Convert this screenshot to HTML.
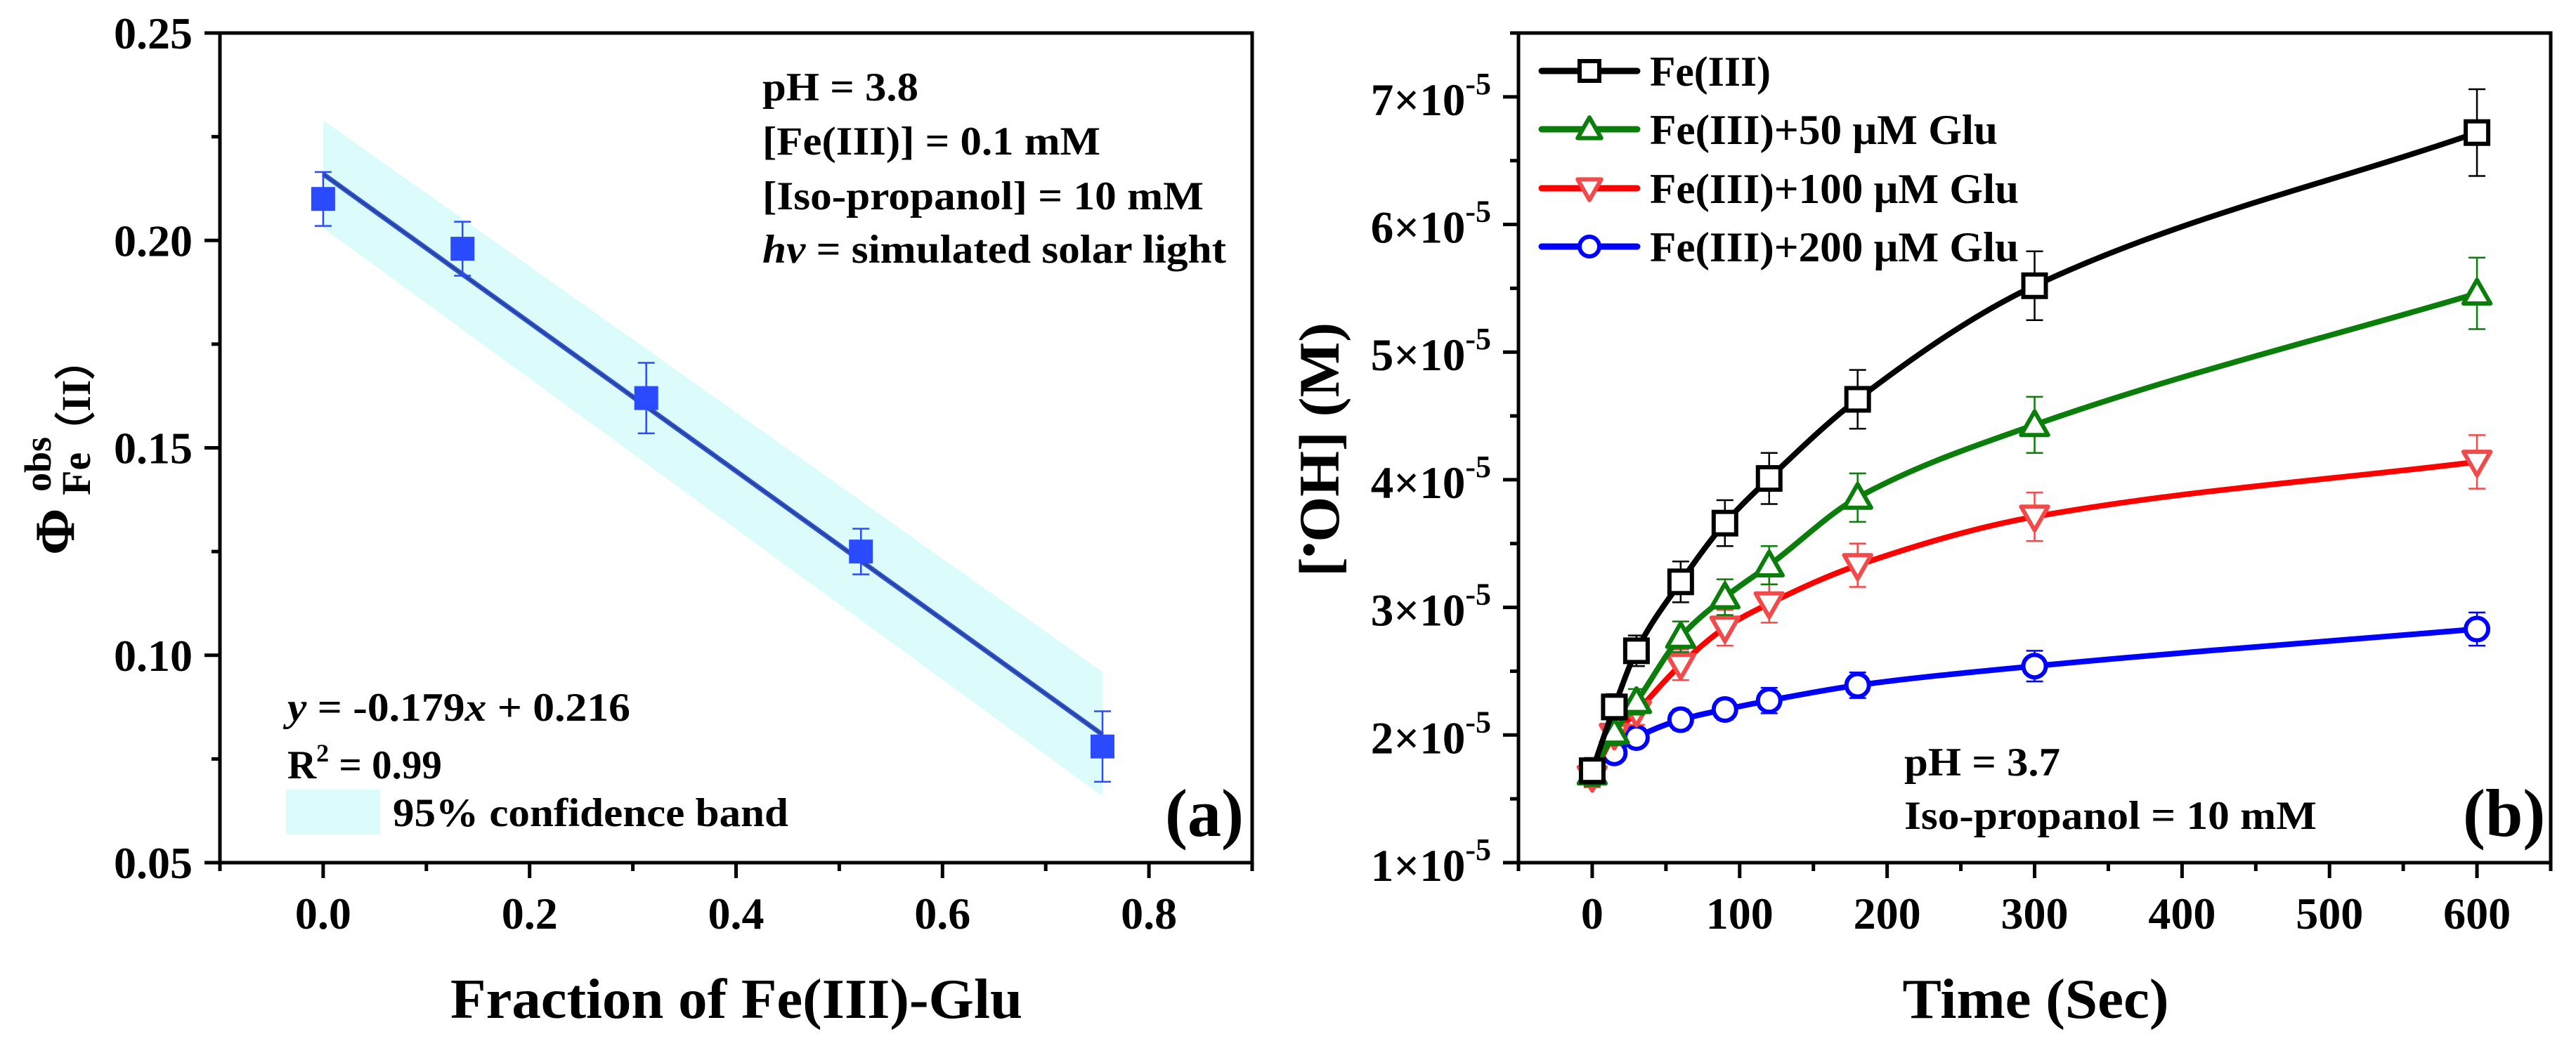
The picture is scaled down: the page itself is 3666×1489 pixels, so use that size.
<!DOCTYPE html>
<html><head><meta charset="utf-8"><style>
html,body{margin:0;padding:0;background:#fff;}
svg{display:block;font-family:"Liberation Serif","DejaVu Serif",serif;font-weight:bold;}
</style></head><body>
<svg id="fig" width="3666" height="1489" viewBox="0 0 3666 1489" xmlns="http://www.w3.org/2000/svg">
<g id="pa"></g>
<g id="pb"></g>
</svg>
<script>
// ---------- Panel (a) data ----------
const aFraction = [0, 0.135, 0.313, 0.521, 0.755];
const aPhi = [0.210, 0.198, 0.162, 0.125, 0.078];
const aErr = [0.0065, 0.0065, 0.0085, 0.0055, 0.0085];
const aFitSlope = -0.179;
const aFitIntercept = 0.216;
const aBandUpper = [0.229, 0.096];
const aBandLower = [0.203, 0.066];
const aXTicks = [0.0, 0.2, 0.4, 0.6, 0.8];
const aXTickLabels = ["0.0", "0.2", "0.4", "0.6", "0.8"];
const aYTicks = [0.05, 0.10, 0.15, 0.20, 0.25];
const aYTickLabels = ["0.05", "0.10", "0.15", "0.20", "0.25"];

// ---------- Panel (b) data ----------
const bTime = [0, 15, 30, 60, 90, 120, 180, 300, 600];
const bFe = [1.72, 2.22, 2.66, 3.20, 3.66, 4.01, 4.63, 5.52, 6.72];
const bFeErr = [0.10, 0.10, 0.12, 0.16, 0.18, 0.20, 0.23, 0.27, 0.34];
const bGlu50 = [1.70, 2.02, 2.26, 2.77, 3.08, 3.33, 3.86, 4.43, 5.46];
const bGlu50Err = [0.10, 0.10, 0.10, 0.12, 0.14, 0.15, 0.19, 0.22, 0.28];
const bGlu100 = [1.67, 2.00, 2.18, 2.55, 2.84, 3.03, 3.33, 3.71, 4.14];
const bGlu100Err = [0.08, 0.08, 0.10, 0.12, 0.14, 0.15, 0.17, 0.19, 0.21];
const bGlu200 = [1.72, 1.86, 1.98, 2.12, 2.20, 2.27, 2.39, 2.54, 2.83];
const bGlu200Err = [0.05, 0.06, 0.07, 0.08, 0.08, 0.10, 0.10, 0.12, 0.13];
const bSeriesNames = ["Fe(III)", "Fe(III)+50 μM Glu", "Fe(III)+100 μM Glu", "Fe(III)+200 μM Glu"];
const bXTicks = [0, 100, 200, 300, 400, 500, 600];
const bXTickLabels = ["0", "100", "200", "300", "400", "500", "600"];
const bYTicks = [1, 2, 3, 4, 5, 6, 7];
const bYTickLabels = ["1", "2", "3", "4", "5", "6", "7"];

const NS = "http://www.w3.org/2000/svg";
function mk(parent, tag, attrs, text) {
  const e = document.createElementNS(NS, tag);
  for (const k in attrs) e.setAttribute(k, attrs[k]);
  if (text !== undefined) e.textContent = text;
  parent.appendChild(e);
  return e;
}

// ===== Panel A =====
const pa = document.getElementById('pa');
const aL = 313, aR = 1782, aT = 47, aB = 1228;
const ax = v => aL + (v - (-0.1)) / 1.0 * (aR - aL);
const ay = v => aB - (v - 0.05) / 0.20 * (aB - aT);

const band = mk(pa, 'polygon', {points: `${ax(0)},${ay(aBandUpper[0])} ${ax(aFraction[4])},${ay(aBandUpper[1])} ${ax(aFraction[4])},${ay(aBandLower[1])} ${ax(0)},${ay(aBandLower[0])}`, fill: '#dcfcfc'});


const fit = mk(pa, 'line', {x1: ax(0), y1: ay(aFitIntercept), x2: ax(aFraction[4]), y2: ay(aFitIntercept + aFitSlope * aFraction[4]), stroke: '#2f55d8', 'stroke-width': 7});


mk(pa, 'line', {x1: ax(0), y1: ay(aFitIntercept), x2: ax(aFraction[4]), y2: ay(aFitIntercept + aFitSlope * aFraction[4]), stroke: '#2a3e80', 'stroke-width': 2});
aFraction.forEach((f, i) => {
  const g = mk(pa, 'g', {});
  
  
  const x = ax(f), y1 = ay(aPhi[i] + aErr[i]), y2 = ay(aPhi[i] - aErr[i]);
  mk(g, 'line', {x1: x, y1: y1, x2: x, y2: y2, stroke: '#2a4bff', 'stroke-width': 2.5});
  mk(g, 'line', {x1: x - 12, y1: y1, x2: x + 12, y2: y1, stroke: '#2a4bff', 'stroke-width': 2.5});
  mk(g, 'line', {x1: x - 12, y1: y2, x2: x + 12, y2: y2, stroke: '#2a4bff', 'stroke-width': 2.5});
  mk(g, 'rect', {x: x - 17, y: ay(aPhi[i]) - 17, width: 34, height: 34, fill: '#2a4bff'});
});
const fa = mk(pa, 'rect', {x: aL, y: aT, width: aR - aL, height: aB - aT, fill: 'none', stroke: '#000', 'stroke-width': 5});


for (let v = -0.1; v <= 0.9001; v += 0.1) {
  const major = Math.abs(Math.round(v * 10) % 2) === 0;
  mk(pa, 'line', {x1: ax(v), y1: aB, x2: ax(v), y2: aB + (major ? 22 : 12), stroke: '#000', 'stroke-width': 5});
}
aXTicks.forEach((v, i) => {
  const t = mk(pa, 'text', {x: ax(v), y: 1322, 'font-size': 64, 'text-anchor': 'middle'}, aXTickLabels[i]);
  
  
});
for (let v = 0.05; v <= 0.2501; v += 0.025) {
  const major = Math.abs(Math.round(v * 1000) % 50) === 0;
  mk(pa, 'line', {x1: aL, y1: ay(v), x2: aL - (major ? 22 : 12), y2: ay(v), stroke: '#000', 'stroke-width': 5});
}
aYTicks.forEach((v, i) => {
  const t = mk(pa, 'text', {x: 274, y: ay(v) + 22, 'font-size': 64, 'text-anchor': 'end'}, aYTickLabels[i]);
  
  
});
</script>
<script>
(function(){
const pa = document.getElementById('pa');
function T(attrs, txt, name){const e=document.createElementNS("http://www.w3.org/2000/svg",'text');for(const k in attrs)e.setAttribute(k,attrs[k]);e.innerHTML=txt;


pa.appendChild(e);return e;}
T({x:1085,y:143,'font-size':57,textLength:222,lengthAdjust:'spacingAndGlyphs'},'pH = 3.8','annotation-ph');
T({x:1085,y:220,'font-size':57,textLength:481,lengthAdjust:'spacingAndGlyphs'},'[Fe(III)] = 0.1 mM','annotation-fe');
T({x:1085,y:298,'font-size':57,textLength:628,lengthAdjust:'spacingAndGlyphs'},'[Iso-propanol] = 10 mM','annotation-isopropanol');
T({x:1085,y:374,'font-size':57,textLength:660,lengthAdjust:'spacingAndGlyphs'},'<tspan font-style="italic">hv</tspan> = simulated solar light','annotation-light');
T({x:409,y:1026,'font-size':57,textLength:488,lengthAdjust:'spacingAndGlyphs'},'<tspan font-style="italic">y</tspan> = -0.179<tspan font-style="italic">x</tspan> + 0.216','fit-equation');
T({x:409,y:1108,'font-size':57},'R<tspan font-size="36" dy="-24">2</tspan><tspan dy="24"> = 0.99</tspan>','r-squared');
T({x:559,y:1176,'font-size':57,textLength:563,lengthAdjust:'spacingAndGlyphs'},'95% confidence band','legend-band-label');
T({x:1658,y:1190,'font-size':96},'(a)','panel-label-a');
T({x:1048,y:1449,'font-size':80,'text-anchor':'middle',textLength:814,lengthAdjust:'spacingAndGlyphs'},'Fraction of Fe(III)-Glu','x-axis-title-a');
const sw=document.createElementNS("http://www.w3.org/2000/svg",'rect');
sw.setAttribute('x',407);sw.setAttribute('y',1124);sw.setAttribute('width',134);sw.setAttribute('height',64);sw.setAttribute('fill','#dcfcfc');


pa.appendChild(sw);
const g=document.createElementNS("http://www.w3.org/2000/svg",'g');


pa.appendChild(g);
function R(x,y,fs,txt){const e=document.createElementNS("http://www.w3.org/2000/svg",'text');e.setAttribute('transform',`translate(${x},${y}) rotate(-90)`);e.setAttribute('font-size',fs);e.textContent=txt;g.appendChild(e);}
R(105,790,80,'Φ');
R(72,700,54,'obs');
R(128,705,58,'Fe（II）');
})();
</script>
<script>
(function(){
const pb = document.getElementById('pb');
const NS="http://www.w3.org/2000/svg";
function mk(parent, tag, attrs, text){const e=document.createElementNS(NS,tag);for(const k in attrs)e.setAttribute(k,attrs[k]);if(text!==undefined)e.textContent=text;parent.appendChild(e);return e;}
const bL=2161,bR=3630,bT=47,bB=1228;
const bx=v=>bL+(v+50)/700*(bR-bL);
const by=v=>bB-(v-1)/6.5*(bB-bT);
const series=[
 {vals:bFe,err:bFeErr,color:'#000',ecolor:'#000',marker:'square',name:'series-fe'},
 {vals:bGlu50,err:bGlu50Err,color:'#0a7d0a',ecolor:'#0a7d0a',marker:'up',name:'series-glu50'},
 {vals:bGlu100,err:bGlu100Err,color:'#ff0000',ecolor:'#f24a4a',marker:'down',name:'series-glu100'},
 {vals:bGlu200,err:bGlu200Err,color:'#0000ff',ecolor:'#0000ff',marker:'circle',name:'series-glu200'}
];
function smooth(pts){
 const n=pts.length, m=[];
 for(let i=0;i<n;i++){
  if(i===0) m.push((pts[1][1]-pts[0][1])/(pts[1][0]-pts[0][0]));
  else if(i===n-1) m.push((pts[n-1][1]-pts[n-2][1])/(pts[n-1][0]-pts[n-2][0]));
  else {
   const h0=pts[i][0]-pts[i-1][0], h1=pts[i+1][0]-pts[i][0];
   const s0=(pts[i][1]-pts[i-1][1])/h0, s1=(pts[i+1][1]-pts[i][1])/h1;
   if(s0*s1<=0){m.push(0);continue;}
   const w1=2*h1+h0, w2=h1+2*h0;
   m.push((w1+w2)/(w1/s0+w2/s1));
  }
 }
 let d=`M${pts[0][0]},${pts[0][1]}`;
 for(let i=0;i<n-1;i++){const h=pts[i+1][0]-pts[i][0];
  d+=` C${pts[i][0]+h/3},${pts[i][1]+m[i]*h/3} ${pts[i+1][0]-h/3},${pts[i+1][1]-m[i+1]*h/3} ${pts[i+1][0]},${pts[i+1][1]}`;}
 return d;}
function marker(g,m,x,y,color,s){
 if(m==='square')mk(g,'rect',{x:x-s,y:y-s,width:2*s,height:2*s,fill:'#fff',stroke:color,'stroke-width':6});
 else if(m==='circle')mk(g,'circle',{cx:x,cy:y,r:s,fill:'#fff',stroke:color,'stroke-width':6});
 else if(m==='up')mk(g,'polygon',{points:`${x},${y-s*1.2} ${x+s*1.2},${y+s*0.9} ${x-s*1.2},${y+s*0.9}`,fill:'#fff',stroke:color,'stroke-width':6,'stroke-linejoin':'round'});
 else mk(g,'polygon',{points:`${x},${y+s*1.2} ${x+s*1.2},${y-s*0.9} ${x-s*1.2},${y-s*0.9}`,fill:'#fff',stroke:color,'stroke-width':6,'stroke-linejoin':'round'});
}
series.slice().reverse().forEach(s=>{
 const g=mk(pb,'g',{});
 
 
 const pts=bTime.map((t,i)=>[bx(t),by(s.vals[i])]);
 mk(g,'path',{d:smooth(pts),fill:'none',stroke:s.color,'stroke-width':8});
 bTime.forEach((t,i)=>{const x=bx(t),y1=by(s.vals[i]+s.err[i]),y2=by(s.vals[i]-s.err[i]);
  mk(g,'line',{x1:x,y1:y1,x2:x,y2:y2,stroke:s.ecolor,'stroke-width':2.5});
  mk(g,'line',{x1:x-12,y1:y1,x2:x+12,y2:y1,stroke:s.ecolor,'stroke-width':2.5});
  mk(g,'line',{x1:x-12,y1:y2,x2:x+12,y2:y2,stroke:s.ecolor,'stroke-width':2.5});
 });
 bTime.forEach((t,i)=>marker(g,s.marker,bx(t),by(s.vals[i]),s.ecolor,16));
});
const fr=mk(pb,'rect',{x:bL,y:bT,width:bR-bL,height:bB-bT,fill:'none',stroke:'#000','stroke-width':5});


for(let v=-50;v<=650;v+=50){const major=v%100===0;mk(pb,'line',{x1:bx(v),y1:bB,x2:bx(v),y2:bB+(major?22:12),stroke:'#000','stroke-width':5});}
bXTicks.forEach((v,i)=>{const t=mk(pb,'text',{x:bx(v),y:1322,'font-size':64,'text-anchor':'middle'},bXTickLabels[i]);
 
 });
for(let v=1;v<=7.5;v+=0.5){const major=v%1===0;mk(pb,'line',{x1:bL,y1:by(v),x2:bL-(major?22:12),y2:by(v),stroke:'#000','stroke-width':5});}
bYTicks.forEach((v,i)=>{const t=mk(pb,'text',{x:2122,y:by(v)+26,'font-size':65,'text-anchor':'end'});
 t.innerHTML=bYTickLabels[i]+'×10<tspan font-size="44" dy="-30">-5</tspan>';
 
 });
const rows=[101,184,268,351];
series.forEach((s,i)=>{const g=mk(pb,'g',{});
 
 
 mk(g,'line',{x1:2194,y1:rows[i],x2:2330,y2:rows[i],stroke:s.color,'stroke-width':9,'stroke-linecap':'round'});
 marker(g,s.marker,2262,rows[i],s.ecolor,14);
 const widths=[172,495,525,525];
 mk(g,'text',{x:2348,y:rows[i]+21,'font-size':60,textLength:widths[i],lengthAdjust:'spacingAndGlyphs'},bSeriesNames[i]);
});
function T(attrs,txt,name){const e=mk(pb,'text',attrs);e.innerHTML=txt;
 
 }
T({x:2710,y:1104,'font-size':57,textLength:222,lengthAdjust:'spacingAndGlyphs'},'pH = 3.7','annotation-ph-b');
T({x:2710,y:1180,'font-size':57,textLength:587,lengthAdjust:'spacingAndGlyphs'},'Iso-propanol = 10 mM','annotation-isopropanol-b');
T({x:3505,y:1190,'font-size':96},'(b)','panel-label-b');
T({x:2897,y:1449,'font-size':80,'text-anchor':'middle',textLength:379,lengthAdjust:'spacingAndGlyphs'},'Time (Sec)','x-axis-title-b');
T({transform:'translate(1905,640) rotate(-90)','font-size':82,'text-anchor':'middle',textLength:362,lengthAdjust:'spacingAndGlyphs'},'[<tspan font-size="60" dy="-22">•</tspan><tspan dy="22">OH] (M)</tspan>','y-axis-title-b');
})();
</script>
</body></html>
